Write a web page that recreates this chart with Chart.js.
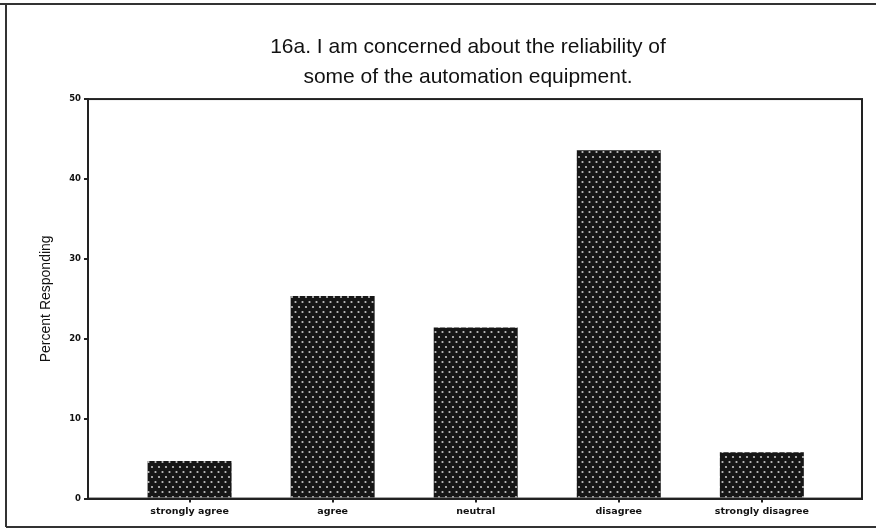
<!DOCTYPE html>
<html>
<head>
<meta charset="utf-8">
<script src="https://cdn.jsdelivr.net/npm/chart.js@4"></script>
<style>
  html, body { margin: 0; padding: 0; background: #fff; }
  #wrap { width: 876px; height: 530px; position: relative; }
</style>
</head>
<body>
<div id="wrap"><canvas id="c" width="876" height="530"></canvas></div>
<script>
const categories = ["strongly agree", "agree", "neutral", "disagree", "strongly disagree"];
const percentResponding = [4.7, 25.35, 21.4, 43.6, 5.8];
const yTicks = [0, 10, 20, 30, 40, 50];
const titleLines = ["16a. I am concerned about the reliability of", "some of the automation equipment."];
const yAxisTitle = "Percent Responding";

function makePattern() {
  const t = document.createElement('canvas');
  t.width = 7; t.height = 10;
  const g = t.getContext('2d');
  g.fillStyle = '#161616';
  g.fillRect(0, 0, 7, 10);
  g.fillStyle = '#c4c4c4';
  g.beginPath(); g.arc(1.5, 2, 1.1, 0, Math.PI * 2); g.fill();
  g.beginPath(); g.arc(5, 7, 1.1, 0, Math.PI * 2); g.fill();
  return g.createPattern(t, 'repeat');
}

const framePlugin = {
  id: 'frame',
  afterLayout(chart) {
    const tb = chart.titleBlock;
    if (tb) { tb.left -= 7; tb.right -= 7; }
  },
  beforeDraw(chart) {
    const ctx = chart.ctx;
    ctx.save();
    ctx.fillStyle = '#fff';
    ctx.fillRect(0, 0, chart.width, chart.height);
    ctx.strokeStyle = '#333';
    ctx.lineWidth = 2;
    ctx.beginPath();
    ctx.moveTo(0, 4); ctx.lineTo(876, 4);
    ctx.moveTo(6, 4); ctx.lineTo(6, 527);
    ctx.moveTo(6, 527); ctx.lineTo(876, 527);
    ctx.stroke();
    ctx.restore();
  },
  afterDatasetsDraw(chart) {
    const a = chart.chartArea;
    const ctx = chart.ctx;
    ctx.save();
    ctx.strokeStyle = '#222';
    ctx.lineWidth = 2;
    ctx.strokeRect(a.left, a.top, a.right - a.left, a.bottom - a.top);
    ctx.restore();
  }
};

new Chart(document.getElementById('c'), {
  type: 'bar',
  data: {
    datasets: [{
      data: percentResponding.map((v, i) => ({ x: i + 1, y: v })),
      backgroundColor: makePattern(),
      borderWidth: 0,
      barPercentage: 0.587,
      categoryPercentage: 1
    }]
  },
  plugins: [framePlugin],
  options: {
    responsive: false,
    animation: false,
    layout: { padding: { top: 32, right: 14, left: 38, bottom: 10 } },
    plugins: {
      legend: { display: false },
      tooltip: { enabled: false },
      title: {
        display: true,
        fullSize: false,
        text: titleLines,
        color: '#111',
        font: { family: 'Liberation Sans', size: 21, weight: 'normal', lineHeight: 1.43 },
        padding: { top: 0, bottom: 7 }
      }
    },
    scales: {
      x: {
        type: 'linear',
        offset: false,
        min: 0.29,
        max: 5.7,
        afterBuildTicks(scale) { scale.ticks = categories.map((_, i) => ({ value: i + 1 })); },
        ticks: {
          autoSkip: false,
          maxRotation: 0,
          color: '#111',
          font: { family: 'DejaVu Sans', size: 9.5, weight: 'bold' },
          padding: 3,
          callback: (v) => categories[v - 1]
        },
        grid: { display: true, offset: false, drawOnChartArea: false, drawTicks: true, tickLength: 4, color: '#222', lineWidth: 2 },
        border: { display: true, color: '#222', width: 2 }
      },
      y: {
        min: 0,
        max: 50,
        afterBuildTicks(scale) { scale.ticks = yTicks.map(v => ({ value: v })); },
        afterFit(scale) { scale.width = 50; },
        ticks: {
          color: '#111',
          font: { family: 'DejaVu Sans', size: 8.5, weight: 'bold' },
          padding: 3
        },
        grid: { display: true, drawOnChartArea: false, drawTicks: true, tickLength: 4, color: '#222', lineWidth: 2 },
        border: { display: true, color: '#222', width: 2 },
        title: {
          display: true,
          text: yAxisTitle,
          color: '#111',
          font: { family: 'Liberation Sans', size: 14 },
          padding: 0
        }
      }
    }
  }
});
</script>
</body>
</html>
